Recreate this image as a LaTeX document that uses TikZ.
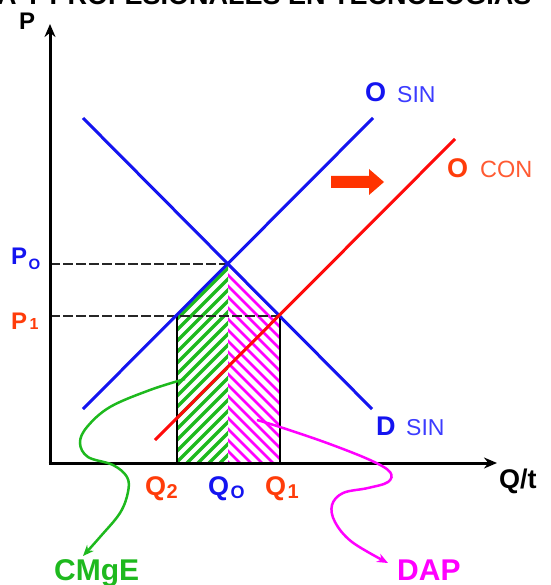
\documentclass[tikz,border=0pt]{standalone}
\usepackage{fontspec}
\setmainfont{Liberation Sans}
\usetikzlibrary{arrows.meta}
\definecolor{cblue}{RGB}{20,20,240}
\definecolor{cblueL}{RGB}{60,60,255}
\definecolor{corange}{RGB}{255,60,10}
\definecolor{corangeL}{RGB}{255,90,50}
\definecolor{cgreen}{RGB}{30,185,30}
\definecolor{cmag}{RGB}{255,0,255}
\definecolor{cred}{RGB}{255,10,10}
\definecolor{carrow}{RGB}{255,51,0}
\begin{document}
\begin{tikzpicture}[x=1pt,y=-1pt,
  lbl/.style={inner sep=0pt, anchor=base west, font=\bfseries\fontsize{27}{27}\selectfont},
  sublbl/.style={inner sep=0pt, anchor=base west, font=\bfseries\fontsize{16}{16}\selectfont},
  curvelbl/.style={inner sep=0pt, anchor=base west, font=\fontsize{23}{23}\selectfont},
  bigl/.style={inner sep=0pt, anchor=base west, font=\bfseries\fontsize{30}{30}\selectfont},
  axisline/.style={line width=3pt, -{Stealth[length=13pt,width=11pt]}},
  curveline/.style={line width=3pt},
  guide/.style={line width=1.3pt, black!85, dash pattern=on 10pt off 3pt},
  boxline/.style={line width=1.2pt, black},
  pointer/.style={line width=2.5pt, -{Stealth[length=11pt,width=9pt]}}
]
\useasboundingbox (0,0) rectangle (550,585);

% title (cut off at top)
\node[inner sep=0pt, anchor=base west, font=\bfseries\fontsize{27}{27}\selectfont] (title) at (-3,5) {A Y PROFESIONALES EN TECNOLOGÍAS};

% key points
\coordinate (O) at (50,463);
\coordinate (E0) at (228,264);
\coordinate (E1) at (280,316);
\coordinate (B) at (177,316);
\coordinate (q2) at (177,463);
\coordinate (q0) at (228,463);
\coordinate (q1) at (280,463);
\coordinate (p0) at (50,264);
\coordinate (p1) at (50,316);
\coordinate (os1) at (83,409);
\coordinate (os2) at (373,118);
\coordinate (d1) at (83,118);
\coordinate (d2) at (372,409);
\coordinate (oc1) at (155,440);
\coordinate (oc2) at (455,139);

% hatching
\begin{scope}
  \clip (B) -- (E0) -- (q0) -- (q2) -- cycle;
  \foreach \c in {430,441,...,710} \draw[cgreen, line width=3.4pt] (\c-250,250) -- (\c-480,480);
\end{scope}
\begin{scope}
  \clip (E0) -- (E1) -- (q1) -- (q0) -- cycle;
  \foreach \c in {-245,-234,...,40} \draw[cmag, line width=2.8pt] (250+\c,250) -- (480+\c,480);
\end{scope}

% guide lines
\draw[guide] (p0) -- (E0);
\draw[guide] (p1) -- (E1);
\draw[boxline] (B) -- (q2);
\draw[boxline] (E1) -- (q1);

% curves
\draw[curveline, cblue] (os1) -- (os2);
\draw[curveline, cblue] (d1) -- (d2);
\draw[curveline, cred] (oc1) -- (oc2);

% shift arrow
\fill[carrow] (331,176) -- (369,176) -- (369,169) -- (384,182) -- (369,195) -- (369,188) -- (331,188) -- cycle;

% axes
\draw[axisline] (O) -- (50,24);
\draw[axisline] (48.5,463) -- (497,463);

% labels
\node[lbl, black, font=\bfseries\fontsize{24}{24}\selectfont] (P) at (19,30) {P};
\node[inner sep=0pt, anchor=base west, font=\bfseries\fontsize{27}{27}\selectfont] (Qt) at (499,488) {Q/t};

\node[lbl, text=cblue, font=\bfseries\fontsize{24}{24}\selectfont] (P0) at (11,264) {P};
\node[sublbl, text=cblue, font=\bfseries\fontsize{15}{15}\selectfont] (P0s) at (P0.base east) [xshift=1pt, yshift=-5pt] {O};
\node[lbl, text=corange, font=\bfseries\fontsize{24}{24}\selectfont] (P1) at (11,329) {P};
\node[sublbl, text=corange, font=\bfseries\fontsize{16}{16}\selectfont] (P1s) at (P1.base east) [xshift=2pt] {1};

\node[lbl, text=corange] (Q2) at (145,495) {Q};
\node[sublbl, text=corange, font=\bfseries\fontsize{20}{20}\selectfont] (Q2s) at (Q2.base east) [xshift=0pt, yshift=-3pt] {2};
\node[lbl, text=cblue] (Q0) at (208,495) {Q};
\node[sublbl, text=cblue, font=\bfseries\fontsize{18}{18}\selectfont] (Q0s) at (Q0.base east) [xshift=1pt, yshift=-3pt] {O};
\node[lbl, text=corange] (Q1) at (265,495) {Q};
\node[sublbl, text=corange, font=\bfseries\fontsize{20}{20}\selectfont] (Q1s) at (Q1.base east) [xshift=1pt, yshift=-3pt] {1};

\node[lbl, text=cblue] (Osin) at (365,102) {O};
\node[curvelbl, text=cblueL] (Osins) at (397,103) {SIN};
\node[lbl, text=corange] (Ocon) at (447,178) {O};
\node[curvelbl, text=corangeL, font=\fontsize{23.5}{23.5}\selectfont] (Ocons) at (480,178) {CON};
\node[lbl, text=cblue] (Dsin) at (376,435) {D};
\node[curvelbl, text=cblueL] (Dsins) at (406,435) {SIN};

\node[bigl, text=cgreen] (cmge) at (54,580) {CMgE};
\node[bigl, text=cmag] (dap) at (397,580) {DAP};

% pointers
\coordinate (gstart) at (185,379);
\coordinate (gend) at (83,556);
\coordinate (mstart) at (257,420);
\coordinate (mend) at (388,563);
\draw[pointer, cgreen] plot[smooth, tension=0.6] coordinates {(gstart) (150,390) (110,407) (87,427) (80,443) (88,457) (113,465) (127,477) (128,492) (120,513) (100,537) (gend)};
\draw[pointer, cmag] plot[smooth, tension=0.6] coordinates {(mstart) (280,427) (327,443) (370,460) (390,472) (388,482) (368,488) (343,493) (332,505) (335,522) (352,542) (mend)};
\end{tikzpicture}
\end{document}
